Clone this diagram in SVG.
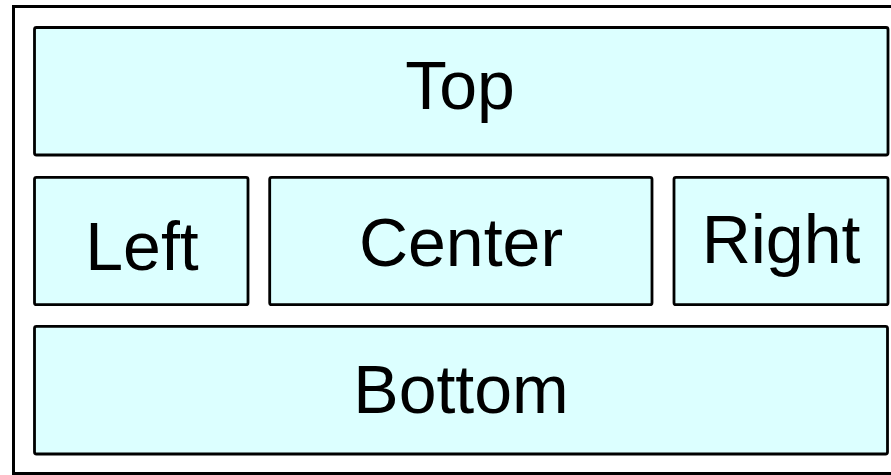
<svg xmlns="http://www.w3.org/2000/svg" width="891" height="475" viewBox="0 0 891 475">
<style>
.box{fill:#dcffff;stroke:#000;stroke-width:2.8}
.lbl{font-family:"Liberation Sans",Arial,sans-serif;font-size:68px;fill:#000;text-anchor:middle}
</style>
<rect x="0" y="0" width="891" height="475" fill="#fff"/>
<rect id="frame" x="13.5" y="6.5" width="890" height="467" fill="#fff" stroke="#000" stroke-width="3"/>
<g id="top"><rect class="box" x="34.5" y="27.5" width="853.5" height="127.5" rx="2"/><text class="lbl" x="460" y="109">Top</text></g>
<g id="left"><rect class="box" x="34.5" y="177.3" width="213.5" height="127.4" rx="2"/><text class="lbl" x="142" y="270">Left</text></g>
<g id="center"><rect class="box" x="269.7" y="177.3" width="382.3" height="127.4" rx="2"/><text class="lbl" x="461" y="266">Center</text></g>
<g id="right"><rect class="box" x="674" y="177.3" width="214" height="127.4" rx="2"/><text class="lbl" x="781" y="262.5">Right</text></g>
<g id="bottom"><rect class="box" x="34.5" y="326.3" width="853" height="127.7" rx="2"/><text class="lbl" x="461" y="412.5">Bottom</text></g>
<g id="connectors"></g>
</svg>
